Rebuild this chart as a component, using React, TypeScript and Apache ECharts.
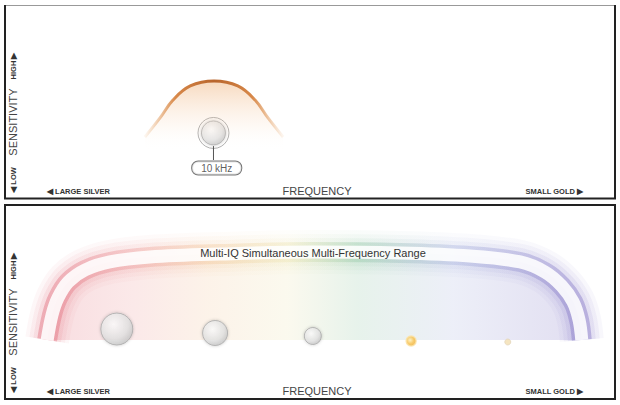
import { useEffect, useRef } from "react";
import * as echarts from "echarts";

// upper panel: a single-frequency detector, one bell of sensitivity around 10 kHz
const singleFreq = [18.5, 21.3, 23.7, 26.9, 31.3, 35.7, 38.9, 41.3, 44.1];
const singleSens = [26.9, 38.8, 50, 58.8, 61.9, 58.8, 50, 38.8, 26.9];
const knobFreq = 31.2;
const knobSens = 29.4;
const knobLabel = "10 kHz";

// lower panel: the multi-frequency band, flat across the whole range
const multiFreq = [0.4, 1.3, 2.4, 4.3, 7.4, 12, 19.4, 32.4, 49.6, 65.7, 78.7, 88, 92.6, 95.7, 97.8, 98.9, 99.4];
const multiSens = [4.2, 25, 39.2, 52.5, 62.5, 69.2, 73.3, 75.8, 77.5, 76.7, 74.2, 69.2, 60.8, 49.2, 35.8, 20.8, 4.2];
const bandTitle = "Multi-IQ Simultaneous Multi-Frequency Range";

// targets, from large silver down to small gold
const targetFreq = [13.3, 31.5, 49.6, 67.8, 85.7];
const targetSens = [13.3, 10, 7.5, 3.3, 2.5];
const targetSize = [32, 25, 17, 10, 6];
const targetMetal = ["silver", "silver", "silver", "gold", "paleGold"];

const axisLeft = "◀ LARGE SILVER";
const axisRight = "SMALL GOLD ▶";
const axisName = "FREQUENCY";
const sensName = "SENSITIVITY";
const sensHigh = "HIGH ▶";
const sensLow = "◀ LOW";

const FONT = '"Liberation Sans", Arial, sans-serif';

const rainbow = (a: number) =>
  new echarts.graphic.LinearGradient(0, 0, 1, 0, [
    { offset: 0, color: `rgba(222,92,110,${a})` },
    { offset: 0.16, color: `rgba(236,150,150,${a})` },
    { offset: 0.3, color: `rgba(242,196,150,${a})` },
    { offset: 0.45, color: `rgba(236,228,176,${a})` },
    { offset: 0.58, color: `rgba(140,196,160,${a})` },
    { offset: 0.76, color: `rgba(168,178,222,${a})` },
    { offset: 1, color: `rgba(116,100,190,${a})` },
  ]);

const metalStyle = (m: string) => {
  if (m === "gold")
    return {
      color: new echarts.graphic.RadialGradient(0.4, 0.4, 0.7, [
        { offset: 0, color: "#fff0b8" },
        { offset: 0.5, color: "#f7c04a" },
        { offset: 1, color: "#e9a42a" },
      ]),
      borderColor: "#fbe2a6",
      borderWidth: 1.5,
    };
  if (m === "paleGold")
    return { color: "#f3dfb0", borderColor: "#e4d6bc", borderWidth: 1 };
  return {
    color: new echarts.graphic.RadialGradient(0.4, 0.35, 0.75, [
      { offset: 0, color: "#ffffff" },
      { offset: 0.6, color: "#e4e4e4" },
      { offset: 1, color: "#bcbcbc" },
    ]),
    borderColor: "#a9a9a9",
    borderWidth: 1,
    shadowBlur: 3,
    shadowColor: "rgba(0,0,0,0.25)",
  };
};

function axisTexts(top: number) {
  const small = `bold 7.5px ${FONT}`;
  const mid = `11px ${FONT}`;
  return [
    { type: "text", x: 47, y: top + 186, style: { text: axisLeft, font: small, fill: "#333", textAlign: "left", textVerticalAlign: "middle" } },
    { type: "text", x: 317, y: top + 186, style: { text: axisName, font: mid, fill: "#444", textAlign: "center", textVerticalAlign: "middle" } },
    { type: "text", x: 583, y: top + 186, style: { text: axisRight, font: small, fill: "#333", textAlign: "right", textVerticalAlign: "middle" } },
    { type: "text", x: 13, y: top + 61, rotation: Math.PI / 2, style: { text: sensHigh, font: small, fill: "#333", textAlign: "center", textVerticalAlign: "middle" } },
    { type: "text", x: 13, y: top + 117, rotation: Math.PI / 2, style: { text: sensName, font: mid, fill: "#444", textAlign: "center", textVerticalAlign: "middle" } },
    { type: "text", x: 13, y: top + 175, rotation: Math.PI / 2, style: { text: sensLow, font: small, fill: "#333", textAlign: "center", textVerticalAlign: "middle" } },
  ];
}

export default function App() {
  const ref = useRef<HTMLDivElement>(null);

  useEffect(() => {
    if (!ref.current) return;
    const chart = echarts.init(ref.current, undefined, { renderer: "svg" });
    const bell = singleFreq.map((f, i) => [f, singleSens[i]]);
    const band = multiFreq.map((f, i) => [f, multiSens[i]]);
    const bandLine = (width: number, color: any, z: number) => ({
      type: "line",
      xAxisIndex: 1,
      yAxisIndex: 1,
      data: band,
      smooth: 0.35,
      symbol: "none",
      silent: true,
      clip: false,
      z,
      lineStyle: { width, color, cap: "butt" },
    });

    chart.setOption({
      animation: false,
      backgroundColor: "#fff",
      grid: [
        { left: 45, top: 20, width: 540, height: 160 },
        // lower axis starts at the band's end level so the area closes there
        { left: 45, top: 225, width: 540, height: 114.96 },
      ],
      xAxis: [0, 1].map((g) => ({ type: "value", gridIndex: g, min: 0, max: 100, show: false })),
      yAxis: [
        { type: "value", gridIndex: 0, min: 0, max: 100, show: false },
        { type: "value", gridIndex: 1, min: 4.2, max: 100, show: false },
      ],
      series: [
        {
          type: "line",
          data: bell,
          smooth: 0.4,
          symbol: "none",
          silent: true,
          lineStyle: {
            width: 3,
            color: new echarts.graphic.LinearGradient(0, 0, 1, 0, [
              { offset: 0, color: "rgba(232,170,110,0.1)" },
              { offset: 0.22, color: "#d8894a" },
              { offset: 0.5, color: "#b8652c" },
              { offset: 0.78, color: "#d8894a" },
              { offset: 1, color: "rgba(232,170,110,0.1)" },
            ]),
          },
          areaStyle: {
            color: new echarts.graphic.LinearGradient(0, 0, 0, 1, [
              { offset: 0, color: "rgba(236,165,100,0.6)" },
              { offset: 0.45, color: "rgba(248,215,185,0.22)" },
              { offset: 0.7, color: "rgba(255,255,255,0)" },
            ]),
          },
        },
        {
          type: "line",
          data: [
            [knobFreq, 21.2],
            [knobFreq, 12.5],
          ],
          symbol: "none",
          silent: true,
          lineStyle: { width: 1, color: "#555" },
        },
        {
          type: "scatter",
          data: [[knobFreq, knobSens]],
          symbolSize: 31,
          silent: true,
          itemStyle: { color: "rgba(255,255,255,0)", borderColor: "#9a9a9a", borderWidth: 1 },
        },
        {
          type: "scatter",
          data: [[knobFreq, knobSens]],
          symbolSize: 24,
          silent: true,
          itemStyle: metalStyle("silver"),
        },
        {
          type: "scatter",
          data: [[knobFreq + 0.6, 7.5]],
          symbolSize: 1,
          silent: true,
          itemStyle: { color: "rgba(0,0,0,0)" },
          label: {
            show: true,
            position: "inside",
            formatter: knobLabel,
            fontFamily: FONT,
            fontSize: 10,
            color: "#333",
            backgroundColor: "#fff",
            borderColor: "#555",
            borderWidth: 1,
            borderRadius: 6,
            padding: [2, 9, 1, 9],
          },
        },
        {
          type: "line",
          xAxisIndex: 1,
          yAxisIndex: 1,
          data: band,
          smooth: 0.35,
          symbol: "none",
          silent: true,
          clip: false,
          z: 1,
          lineStyle: { width: 1, opacity: 0 },
          areaStyle: { color: rainbow(0.3) },
        },
        bandLine(44, rainbow(0.05), 2),
        bandLine(36, rainbow(0.07), 2),
        bandLine(28, rainbow(0.1), 2),
        bandLine(20, rainbow(0.38), 3),
        bandLine(13, "rgba(255,255,255,0.88)", 4),
        {
          type: "scatter",
          xAxisIndex: 1,
          yAxisIndex: 1,
          z: 5,
          silent: true,
          clip: false,
          data: targetFreq.map((f, i) => ({
            value: [f, targetSens[i]],
            symbolSize: targetSize[i],
            itemStyle: metalStyle(targetMetal[i]),
          })),
        },
      ],
      graphic: [
        { type: "line", shape: { x1: 5, y1: 5.5, x2: 615, y2: 5.5 }, style: { stroke: "#999", lineWidth: 1 } },
        { type: "line", shape: { x1: 5, y1: 5, x2: 5, y2: 199 }, style: { stroke: "#222", lineWidth: 2 } },
        { type: "line", shape: { x1: 615, y1: 5, x2: 615, y2: 199 }, style: { stroke: "#222", lineWidth: 2 } },
        { type: "line", shape: { x1: 4, y1: 198.5, x2: 616, y2: 198.5 }, style: { stroke: "#222", lineWidth: 2 } },
        { type: "rect", shape: { x: 5, y: 205, width: 610, height: 194 }, style: { fill: "none", stroke: "#222", lineWidth: 2 } },
        ...axisTexts(5),
        ...axisTexts(205),
        {
          type: "text",
          x: 313,
          y: 253,
          z: 10,
          style: { text: bandTitle, font: `11px ${FONT}`, fill: "#333", textAlign: "center", textVerticalAlign: "middle" },
        },
      ],
    });
    return () => chart.dispose();
  }, []);

  return <div ref={ref} style={{ position: "absolute", left: 0, top: 0, width: 620, height: 405 }} />;
}
